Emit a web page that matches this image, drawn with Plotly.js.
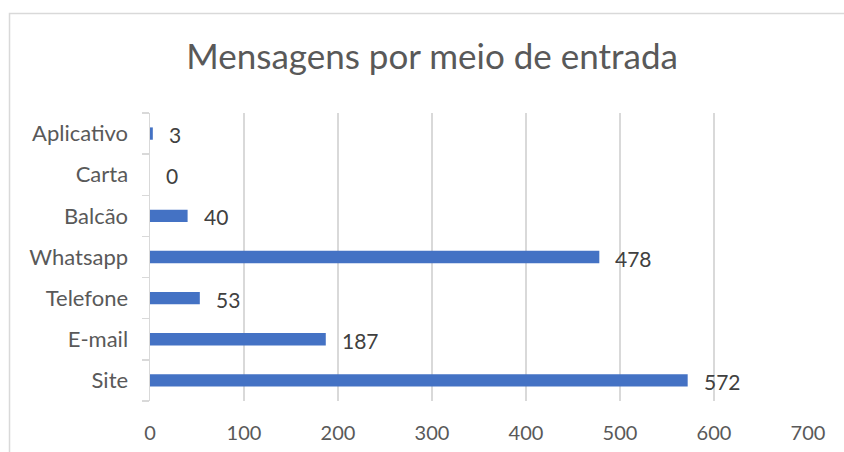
<!DOCTYPE html>
<html>
<head>
<meta charset="utf-8">
<script src="https://cdn.plot.ly/plotly-3.0.1.min.js"></script>
<style>html,body{margin:0;padding:0;background:#fff;}#chart{width:844px;height:452px;}</style>
</head>
<body>
<div id="chart"></div>
<script>
const categories = ["Site", "E-mail", "Telefone", "Whatsapp", "Balcão", "Carta", "Aplicativo"];
const values = [572, 187, 53, 478, 40, 0, 3];
const xTickValues = [0, 100, 200, 300, 400, 500, 600, 700];

const font = "Lato, 'Open Sans', sans-serif";
const textColor = "#595959";
const gridColor = "#d9d9d9";

const trace = {
  type: "bar",
  orientation: "h",
  x: values,
  y: categories,
  marker: {color: "#4472C4"},
  hoverinfo: "x+y"
};

const annotations = categories.map((c, i) => ({
  x: values[i], y: c, xref: "x", yref: "y",
  text: String(values[i]),
  showarrow: false, xanchor: "left", yanchor: "middle",
  xshift: 14, yshift: -1,
  font: {family: font, size: 21, color: "#404040"}
}));

const layout = {
  width: 844, height: 452,
  margin: {l: 150, r: 36, t: 113, b: 51},
  paper_bgcolor: "#ffffff",
  plot_bgcolor: "#ffffff",
  bargap: 0.7,
  showlegend: false,
  title: {
    text: "Mensagens por meio de entrada",
    font: {family: font, size: 35, color: textColor},
    x: 0.512, xanchor: "center",
    y: 0.874, yanchor: "middle", yref: "container"
  },
  xaxis: {
    range: [0, 700],
    tickvals: xTickValues,
    ticktext: xTickValues.map(String),
    showgrid: true, gridcolor: gridColor, gridwidth: 1.5,
    zeroline: false, showline: false, ticks: "",
    ticklabelstandoff: 18,
    tickfont: {family: font, size: 20, color: textColor},
    fixedrange: true
  },
  yaxis: {
    type: "category",
    categoryorder: "array", categoryarray: categories,
    showgrid: false, zeroline: false,
    showline: true, linecolor: gridColor, linewidth: 1.5,
    ticks: "outside", tickson: "boundaries", ticklen: 7, tickcolor: gridColor, tickwidth: 1.5,
    ticklabelstandoff: 16,
    tickfont: {family: font, size: 22, color: textColor},
    fixedrange: true
  },
  annotations: annotations,
  shapes: [{
    type: "rect", xref: "paper", yref: "paper",
    x0: -0.2135, x1: 1.2, y0: -1, y1: 1.3455,
    line: {color: gridColor, width: 1.5}, fillcolor: "rgba(0,0,0,0)", layer: "below"
  }]
};

Plotly.newPlot("chart", [trace], layout, {displayModeBar: false, staticPlot: true});
</script>
</body>
</html>
